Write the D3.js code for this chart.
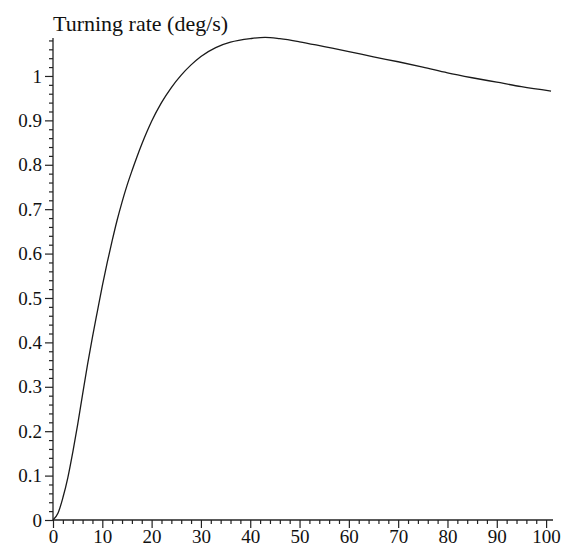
<!DOCTYPE html>
<html>
<head>
<meta charset="utf-8">
<script src="https://cdn.jsdelivr.net/npm/d3@7"></script>
<style>
  html, body { margin: 0; padding: 0; background: #fff; }
  svg { display: block; }
  .lbl { font-family: "Liberation Serif", "Times New Roman", serif; fill: #111; }
</style>
</head>
<body>
<svg id="chart" width="562" height="553"></svg>
<script>
// Time (s) and turning rate (deg/s) samples along the response curve
const times = [0, 1, 2, 3, 4, 5, 6, 7, 8, 9, 10, 11, 12, 13, 14, 15, 16, 17, 18, 19, 20,
  22, 24, 26, 28, 30, 33, 36, 40, 43, 46, 50, 55, 60, 65, 70, 75, 80, 85, 90, 95, 101];
const rates = [0, 0.015, 0.05, 0.095, 0.152, 0.215, 0.283, 0.35, 0.412, 0.47, 0.527, 0.58,
  0.629, 0.675, 0.716, 0.753, 0.786, 0.817, 0.846, 0.873, 0.898, 0.94, 0.974, 1.002, 1.025,
  1.044, 1.064, 1.076, 1.084, 1.087, 1.084, 1.077, 1.066, 1.055, 1.043, 1.032, 1.02,
  1.007, 0.996, 0.986, 0.976, 0.966];

const xMajor = [0, 10, 20, 30, 40, 50, 60, 70, 80, 90, 100];
const yMajor = [0, 0.1, 0.2, 0.3, 0.4, 0.5, 0.6, 0.7, 0.8, 0.9, 1];
const yTitle = "Turning rate (deg/s)";

const svg = d3.select("#chart");
const plotLeft = 53, plotRight = 553, plotBottom = 520, plotTop = 38;

const x = d3.scaleLinear().domain([0, 101.4]).range([plotLeft, plotRight]);
const y = d3.scaleLinear().domain([0, 1.0855]).range([plotBottom, plotTop]);

// minor ticks every 2 s and every 0.02 deg/s
const xMinor = d3.range(0, 101, 2).filter(v => v % 10 !== 0);
const yMinor = d3.range(0, 1.081, 0.02).filter(v => Math.abs(v * 10 - Math.round(v * 10)) > 1e-6);

const axisColor = "#222";

// x axis
const gx = svg.append("g").attr("transform", `translate(0,${plotBottom})`);
gx.call(d3.axisBottom(x).tickValues(xMinor).tickSize(4).tickFormat(""))
  .call(g => g.select(".domain").remove());
gx.append("g").call(d3.axisBottom(x).tickValues(xMajor).tickSize(8).tickPadding(2).tickFormat(d3.format("d")))
  .call(g => g.select(".domain").remove())
  .call(g => g.selectAll("text").attr("class", "lbl").attr("font-size", 19).attr("fill", "#111"));
gx.append("line").attr("x1", plotLeft).attr("x2", plotRight).attr("y1", 0).attr("y2", 0)
  .attr("stroke", axisColor).attr("stroke-width", 1.3);

// y axis
const gy = svg.append("g").attr("transform", `translate(${plotLeft},0)`);
gy.call(d3.axisLeft(y).tickValues(yMinor).tickSize(4).tickFormat(""))
  .call(g => g.select(".domain").remove());
gy.append("g").call(d3.axisLeft(y).tickValues(yMajor).tickSize(8).tickPadding(3).tickFormat(d => String(+d.toFixed(1))))
  .call(g => g.select(".domain").remove())
  .call(g => g.selectAll("text").attr("class", "lbl").attr("font-size", 19).attr("fill", "#111"));
gy.append("line").attr("x1", 0).attr("x2", 0).attr("y1", plotBottom).attr("y2", plotTop)
  .attr("stroke", axisColor).attr("stroke-width", 1.3);

svg.selectAll(".tick line").attr("stroke", axisColor).attr("stroke-width", 1.2);

// axis title above the y axis
svg.append("text").attr("class", "lbl")
  .attr("x", plotLeft).attr("y", 31)
  .attr("font-size", 22)
  .text(yTitle);

// response curve
const pts = times.map((t, i) => [t, rates[i]]);
svg.append("path")
  .datum(pts)
  .attr("fill", "none")
  .attr("stroke", "#1a1a1a")
  .attr("stroke-width", 1.3)
  .attr("d", d3.line().x(d => x(d[0])).y(d => y(d[1])).curve(d3.curveMonotoneX));
</script>
</body>
</html>
